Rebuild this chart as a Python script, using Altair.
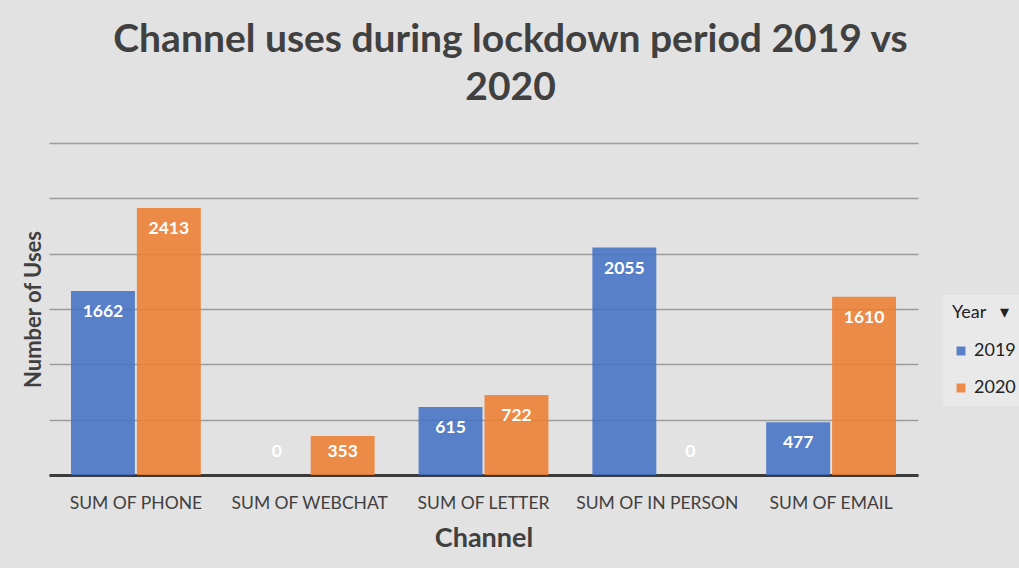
import altair as alt
import pandas as pd

channels = ["SUM OF PHONE", "SUM OF WEBCHAT", "SUM OF LETTER", "SUM OF IN PERSON", "SUM OF EMAIL"]
uses_2019 = [1662, 0, 615, 2055, 477]
uses_2020 = [2413, 353, 722, 0, 1610]
years = ["2019", "2020"]
colors = ["#4472C4", "#ED7D31"]

rows = []
for c, a, b in zip(channels, uses_2019, uses_2020):
    rows.append({"Channel": c, "Year": "2019", "Uses": a})
    rows.append({"Channel": c, "Year": "2020", "Uses": b})
df = pd.DataFrame(rows)

FONT = "Lato"
DARK = "#404040"

y_axis = alt.Axis(title="Number of Uses", labels=False, ticks=False, domain=False,
                  values=[0, 500, 1000, 1500, 2000, 2500, 3000],
                  gridColor="#9c9c9c", gridWidth=1.3,
                  titleFont=FONT, titleFontSize=22, titleFontWeight="bold",
                  titleColor=DARK, titlePadding=4)
y_scale = alt.Scale(domain=[0, 3000])

base = alt.Chart(df).encode(
    x=alt.X("Channel:N", sort=channels,
            scale=alt.Scale(paddingInner=0.253, paddingOuter=0.1265),
            axis=alt.Axis(title="Channel", labelAngle=0, tickSize=0, labelPadding=19,
                          labelFontSize=17.5, labelColor=DARK, labelFont=FONT,
                          titleFont=FONT, titleFontSize=27, titleFontWeight="bold",
                          titleColor=DARK, titlePadding=14,
                          domainColor="#3a3a3a", domainWidth=3, grid=False)),
    xOffset=alt.XOffset("Year:N", sort=years, scale=alt.Scale(paddingInner=0.03)),
)

bars = base.mark_bar(opacity=0.88).encode(
    y=alt.Y("Uses:Q", scale=y_scale, axis=y_axis),
    color=alt.Color("Year:N", sort=years,
                    scale=alt.Scale(domain=years, range=colors),
                    legend=alt.Legend(title="Year\u00A0\u00A0\u00A0\u25BE", orient="none",
                                      legendX=894, legendY=152,
                                      titleFont=FONT, titleFontSize=18, titleFontWeight="normal",
                                      titleColor="#222222", labelFont=FONT, labelFontSize=18,
                                      labelColor="#222222", symbolType="square", symbolSize=80,
                                      symbolStrokeWidth=0, symbolOpacity=0.88,
                                      fillColor="#e9e9e9", padding=9,
                                      rowPadding=19, titlePadding=20)),
)

labels = base.transform_calculate(
    labelY="max(datum.Uses, 400)"
).mark_text(color="white", fontWeight="bold", font=FONT, fontSize=17.5, dy=21,
            baseline="middle").encode(
    y=alt.Y("labelY:Q", scale=y_scale, axis=y_axis),
    text=alt.Text("Uses:Q"),
)

chart = alt.layer(bars, labels).properties(
    width=869, height=332,
    title=alt.TitleParams(["Channel uses during lockdown period 2019 vs", "2020"],
                          font=FONT, fontSize=39, fontWeight="bold", color=DARK,
                          anchor="middle", offset=35, lineHeight=48, dx=27),
    autosize=alt.AutoSizeParams(type="none"),
    padding={"left": 49, "top": 143, "right": 101, "bottom": 93},
    background="#e2e2e2",
).configure_view(stroke=None)

chart.save("out.html", embed_options={"renderer": "svg", "actions": False})
